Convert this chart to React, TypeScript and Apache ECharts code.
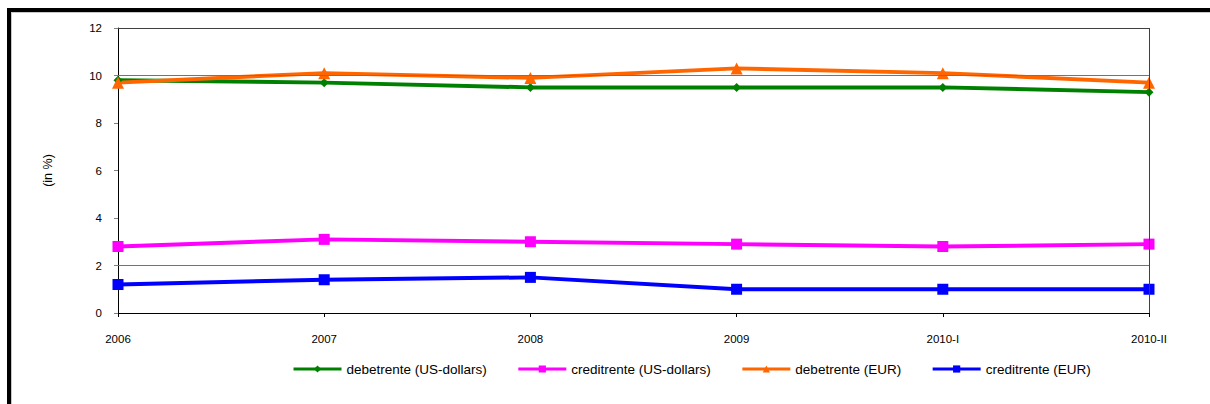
import React, { useEffect, useRef } from "react";
import * as echarts from "echarts";

const categories = ["2006", "2007", "2008", "2009", "2010-I", "2010-II"];
const debetUSD = [9.8, 9.7, 9.5, 9.5, 9.5, 9.3];
const creditUSD = [2.8, 3.1, 3.0, 2.9, 2.8, 2.9];
const debetEUR = [9.7, 10.1, 9.9, 10.3, 10.1, 9.7];
const creditEUR = [1.2, 1.4, 1.5, 1.0, 1.0, 1.0];
const seriesNames = [
  "debetrente (US-dollars)",
  "creditrente (US-dollars)",
  "debetrente (EUR)",
  "creditrente (EUR)",
];
const gridValues = [2, 10];
const yTicks = { min: 0, max: 12, interval: 2 };

const FONT = "Arial, 'Liberation Sans', sans-serif";

export default function App() {
  const ref = useRef<HTMLDivElement>(null);
  useEffect(() => {
    if (!ref.current) return;
    const chart = echarts.init(ref.current, undefined, { renderer: "svg" });
    const mk = (name: string, data: number[], color: string, symbol: string, size: number) => ({
      name,
      type: "line",
      data,
      symbol,
      symbolSize: size,
      showSymbol: true,
      z: 3,
      lineStyle: { color, width: 4 },
      itemStyle: { color },
    });
    chart.setOption({
      animation: false,
      textStyle: { fontFamily: FONT },
      grid: { left: 118, right: 61, top: 28, bottom: 91 },
      graphic: [
        { type: "rect", shape: { x: 7, y: 8, width: 4, height: 396 }, style: { fill: "#000" } },
        { type: "rect", shape: { x: 7, y: 8, width: 1203, height: 4 }, style: { fill: "#000" } },
        { type: "rect", shape: { x: 11, y: 12, width: 1199, height: 1 }, style: { fill: "#c8c8c8" } },
        { type: "rect", shape: { x: 11, y: 12, width: 1, height: 392 }, style: { fill: "#c8c8c8" } },
      ],
      legend: {
        data: seriesNames,
        left: 287,
        top: 357,
        itemWidth: 48,
        itemHeight: 9,
        itemGap: 30,
        textStyle: { fontSize: 13.5, color: "#000", fontFamily: FONT },
        lineStyle: { width: 3 },
      },
      xAxis: {
        type: "category",
        data: categories,
        boundaryGap: false,
        axisLine: { lineStyle: { color: "#000", width: 1 } },
        axisTick: { show: true, length: 4, lineStyle: { color: "#000" } },
        axisLabel: { fontSize: 11.5, color: "#000", margin: 20, interval: 0, fontFamily: FONT },
        splitLine: { show: false },
      },
      yAxis: {
        type: "value",
        min: yTicks.min,
        max: yTicks.max,
        interval: yTicks.interval,
        name: "(in %)",
        nameLocation: "middle",
        nameGap: 64,
        nameRotate: 90,
        nameTextStyle: { fontSize: 12.5, color: "#000", fontFamily: FONT },
        axisLine: { show: true, lineStyle: { color: "#000", width: 1 } },
        axisTick: { show: true, length: 4, lineStyle: { color: "#808080" } },
        axisLabel: { fontSize: 11.5, color: "#000", margin: 16, fontFamily: FONT },
        splitLine: { show: false },
      },
      series: [
        {
          name: "grid",
          type: "line",
          data: [],
          z: 1,
          silent: true,
          markLine: {
            silent: true,
            symbol: "none",
            label: { show: false },
            animation: false,
            data: [
              ...gridValues.map((v) => ({ yAxis: v, lineStyle: { color: "#737373", width: 1, type: "solid" } })),
              { yAxis: yTicks.max, lineStyle: { color: "#404040", width: 1, type: "solid" } },
              { xAxis: categories[categories.length - 1], lineStyle: { color: "#404040", width: 1, type: "solid" } },
            ],
          },
        },
        mk(seriesNames[0], debetUSD, "#008000", "diamond", 9),
        mk(seriesNames[1], creditUSD, "#FF00FF", "rect", 11),
        mk(seriesNames[2], debetEUR, "#FF6600", "triangle", 12),
        mk(seriesNames[3], creditEUR, "#0000FF", "rect", 11),
      ],
    });
    return () => chart.dispose();
  }, []);
  return (
    <div
      ref={ref}
      style={{ position: "fixed", left: 0, top: 0, width: 1210, height: 404, background: "#fff" }}
    />
  );
}
